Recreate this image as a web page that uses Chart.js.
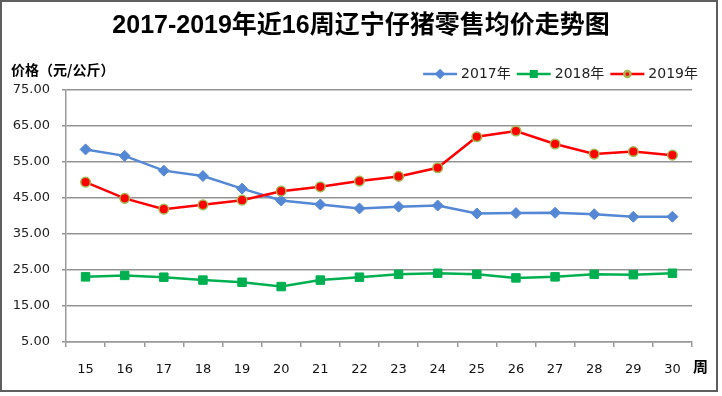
<!DOCTYPE html>
<html>
<head>
<meta charset="utf-8">
<script src="https://cdn.jsdelivr.net/npm/chart.js@4.4.1/dist/chart.umd.min.js"></script>
<style>
  html, body { margin: 0; padding: 0; background: #fff; }
  #wrap { width: 722px; height: 396px; }
</style>
</head>
<body>
<div id="wrap"><canvas id="priceChart" width="722" height="396"></canvas></div>
<script>
// 周次
const weeks = ['15', '16', '17', '18', '19', '20', '21', '22', '23', '24', '25', '26', '27', '28', '29', '30'];

// 仔猪零售均价 (元/公斤)
const price2017 = [58.5, 56.7, 52.6, 51.1, 47.6, 44.3, 43.2, 42.1, 42.6, 42.9, 40.7, 40.8, 40.9, 40.5, 39.8, 39.8];
const price2018 = [23.1, 23.5, 23.0, 22.2, 21.6, 20.4, 22.2, 23.0, 23.8, 24.1, 23.8, 22.8, 23.1, 23.8, 23.7, 24.1];
const price2019 = [49.4, 44.9, 41.9, 43.1, 44.4, 46.9, 48.1, 49.7, 51.0, 53.4, 62.0, 63.6, 60.0, 57.2, 57.9, 56.9];

const seriesNames = ['2017年', '2018年', '2019年'];
const yMin = 5, yMax = 75, yStep = 10;

const titleText = '2017-2019年近16周辽宁仔猪零售均价走势图';
const yAxisTitle = '价格（元/公斤）';
const xAxisTitle = '周';

const cjk = '"Liberation Sans", "Noto Sans CJK SC", sans-serif';

// 标题、图例、边框
const frame = {
  id: 'frame',
  beforeDraw(chart) {
    const ctx = chart.ctx;
    ctx.save();
    ctx.fillStyle = '#fff';
    ctx.fillRect(0, 0, chart.width, chart.height);
    ctx.restore();
  },
  afterDraw(chart) {
    const ctx = chart.ctx;
    const area = chart.chartArea;
    ctx.save();

    ctx.strokeStyle = '#5e5e5e';
    ctx.lineWidth = 2;
    ctx.strokeRect(1, 1, 716, 390);

    ctx.fillStyle = '#000';
    ctx.textBaseline = 'middle';
    ctx.textAlign = 'center';
    ctx.font = 'bold 25px ' + cjk;
    ctx.fillText(titleText, 361, 26);

    ctx.textAlign = 'left';
    ctx.font = 'bold 14px "Noto Sans CJK SC", sans-serif';
    ctx.fillText(yAxisTitle, 11, 70);

    ctx.font = 'bold 15px "Noto Sans CJK SC", sans-serif';
    ctx.fillText(xAxisTitle, area.right + 1, 366);

    // 图例
    ctx.font = '14px "DejaVu Sans", "Noto Sans CJK SC", sans-serif';
    const lineLen = 34, gap = 4;
    const items = chart.data.datasets.map(ds => ({ ds, w: ctx.measureText(ds.label).width }));
    let total = 0;
    items.forEach((it, i) => { total += lineLen + gap + it.w + (i ? gap + 2 : 0); });
    let x = 698 - total;
    const y = 74;
    items.forEach((it, i) => {
      if (i) x += gap + 2;
      const ds = it.ds;
      ctx.strokeStyle = ds.borderColor;
      ctx.lineWidth = 2.5;
      ctx.beginPath();
      ctx.moveTo(x, y);
      ctx.lineTo(x + lineLen, y);
      ctx.stroke();
      ctx.fillStyle = ds.pointBackgroundColor;
      ctx.strokeStyle = ds.pointBorderColor;
      Chart.helpers.drawPoint(ctx, {
        pointStyle: ds.pointStyle,
        radius: ds.pointRadius * 0.65,
        rotation: 0,
        borderWidth: ds.pointBorderWidth
      }, x + lineLen / 2, y);
      x += lineLen + gap;
      ctx.fillStyle = '#222';
      ctx.fillText(ds.label, x, y);
      x += it.w;
    });

    ctx.restore();
  }
};

new Chart(document.getElementById('priceChart'), {
  type: 'line',
  data: {
    labels: weeks,
    datasets: [
      {
        label: seriesNames[0],
        data: price2017,
        borderColor: '#5588d4',
        backgroundColor: '#5588d4',
        borderWidth: 2.5,
        pointStyle: 'rectRot',
        pointRadius: 5.5,
        pointBackgroundColor: '#5588d4',
        pointBorderColor: '#5588d4',
        pointBorderWidth: 1,
        tension: 0,
        order: 2
      },
      {
        label: seriesNames[1],
        data: price2018,
        borderColor: '#00b050',
        backgroundColor: '#00b050',
        borderWidth: 2.5,
        pointStyle: 'rect',
        pointRadius: 6,
        pointBackgroundColor: '#00b050',
        pointBorderColor: '#00b050',
        pointBorderWidth: 1,
        tension: 0,
        order: 1
      },
      {
        label: seriesNames[2],
        data: price2019,
        borderColor: '#ff0000',
        backgroundColor: '#ff0000',
        borderWidth: 2.5,
        pointStyle: 'circle',
        pointRadius: 4.8,
        pointBackgroundColor: '#ff0000',
        pointBorderColor: '#a3b852',
        pointBorderWidth: 1.5,
        tension: 0,
        order: 0
      }
    ]
  },
  options: {
    responsive: false,
    animation: false,
    layout: { padding: { top: 90, left: 0, right: 30, bottom: 14 } },
    plugins: {
      legend: { display: false },
      title: { display: false },
      tooltip: { enabled: false }
    },
    scales: {
      x: {
        offset: true,
        afterFit: scale => { scale.height = 40; },
        grid: {
          offset: true,
          drawOnChartArea: false,
          drawTicks: true,
          tickLength: 5,
          color: '#9a9a9a',
          lineWidth: 1.5
        },
        border: { color: '#9a9a9a', width: 1.5 },
        ticks: {
          padding: 15,
          maxRotation: 0,
          autoSkip: false,
          color: '#111',
          font: { family: '"DejaVu Sans", sans-serif', size: 13 }
        }
      },
      y: {
        min: yMin,
        max: yMax,
        afterFit: scale => { scale.width = 66; },
        grid: {
          color: '#939393',
          lineWidth: 1.5,
          tickLength: 4
        },
        border: { color: '#9a9a9a', width: 1.5 },
        ticks: {
          stepSize: yStep,
          padding: 12,
          color: '#222',
          font: { family: '"DejaVu Sans", sans-serif', size: 13 },
          callback: v => v.toFixed(2)
        }
      }
    }
  },
  plugins: [frame]
});
</script>
</body>
</html>
